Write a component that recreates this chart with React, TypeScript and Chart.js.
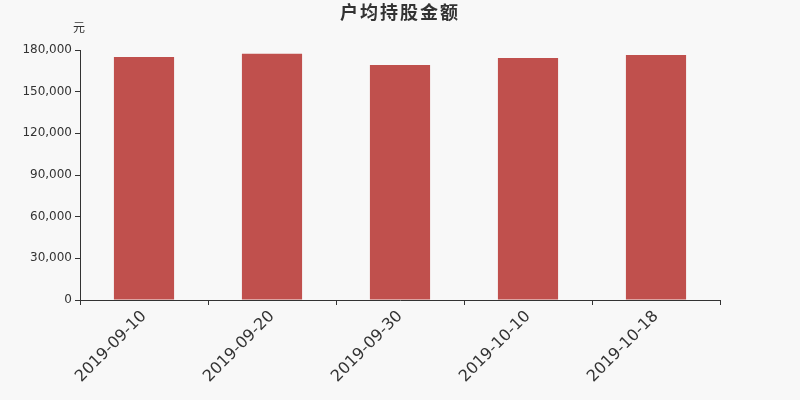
import React, { useEffect, useRef } from "react";
import Chart from "chart.js/auto";

const dates = ["2019-09-10", "2019-09-20", "2019-09-30", "2019-10-10", "2019-10-18"];
const amounts = [174960, 177360, 169200, 174240, 176400];
const chartTitle = "户均持股金额";
const unitLabel = "元";

const FONT = "'DejaVu Sans', 'Noto Sans CJK SC', sans-serif";

const App: React.FC = () => {
  const canvasRef = useRef<HTMLCanvasElement>(null);
  const chartRef = useRef<Chart | null>(null);

  useEffect(() => {
    document.body.style.margin = "0";
    if (!canvasRef.current) return;
    const ctx = canvasRef.current.getContext("2d");

    if (chartRef.current) {
      chartRef.current.destroy();
    }

    // background + title + unit label
    const decorations = {
      id: "decorations",
      beforeDraw(chart: Chart) {
        const c = chart.ctx;
        c.save();
        c.fillStyle = "#f8f8f8";
        c.fillRect(0, 0, chart.width, chart.height);
        c.restore();
      },
      afterDraw(chart: Chart) {
        const c = chart.ctx;
        c.save();
        c.fillStyle = "#333333";
        c.textAlign = "center";
        c.textBaseline = "middle";
        c.font = `bold 18px ${FONT}`;
        (c as any).letterSpacing = "2px";
        c.fillText(chartTitle, 400, 14);
        (c as any).letterSpacing = "0px";
        c.font = `12px ${FONT}`;
        c.fillText(unitLabel, 79, 29);
        c.restore();
      },
    };

    chartRef.current = new Chart(ctx!, {
      type: "bar",
      data: {
        labels: dates,
        datasets: [
          {
            label: chartTitle,
            data: amounts,
            backgroundColor: "#c0504d",
            barPercentage: 0.47,
            categoryPercentage: 1,
          },
        ],
      },
      options: {
        animation: false,
        responsive: true,
        maintainAspectRatio: false,
        layout: { padding: { top: 50, right: 80, left: 0, bottom: 0 } },
        plugins: {
          legend: { display: false },
          title: { display: false },
          tooltip: { enabled: false },
        },
        scales: {
          x: {
            afterFit(scale: any) {
              scale.height = 100;
            },
            border: { color: "#333333", width: 1 },
            grid: {
              display: true,
              drawOnChartArea: false,
              offset: true,
              tickLength: 5,
              color: "#333333",
            },
            ticks: {
              minRotation: 45,
              maxRotation: 45,
              color: "#333333",
              font: { family: FONT, size: 16 },
              padding: 2,
            },
          },
          y: {
            min: 0,
            max: 180000,
            afterFit(scale: any) {
              scale.width = 80;
            },
            border: { color: "#333333", width: 1 },
            grid: {
              display: true,
              drawOnChartArea: false,
              tickLength: 5,
              color: "#333333",
            },
            ticks: {
              stepSize: 30000,
              color: "#333333",
              font: { family: FONT, size: 12 },
              padding: 3,
              callback: (v: any) => Number(v).toLocaleString("en-US"),
            },
          },
        },
      },
      plugins: [decorations],
    });

    return () => {
      if (chartRef.current) {
        chartRef.current.destroy();
        chartRef.current = null;
      }
    };
  }, []);

  return (
    <div style={{ width: "800px", height: "400px" }}>
      <canvas ref={canvasRef} />
    </div>
  );
};

export default App;
